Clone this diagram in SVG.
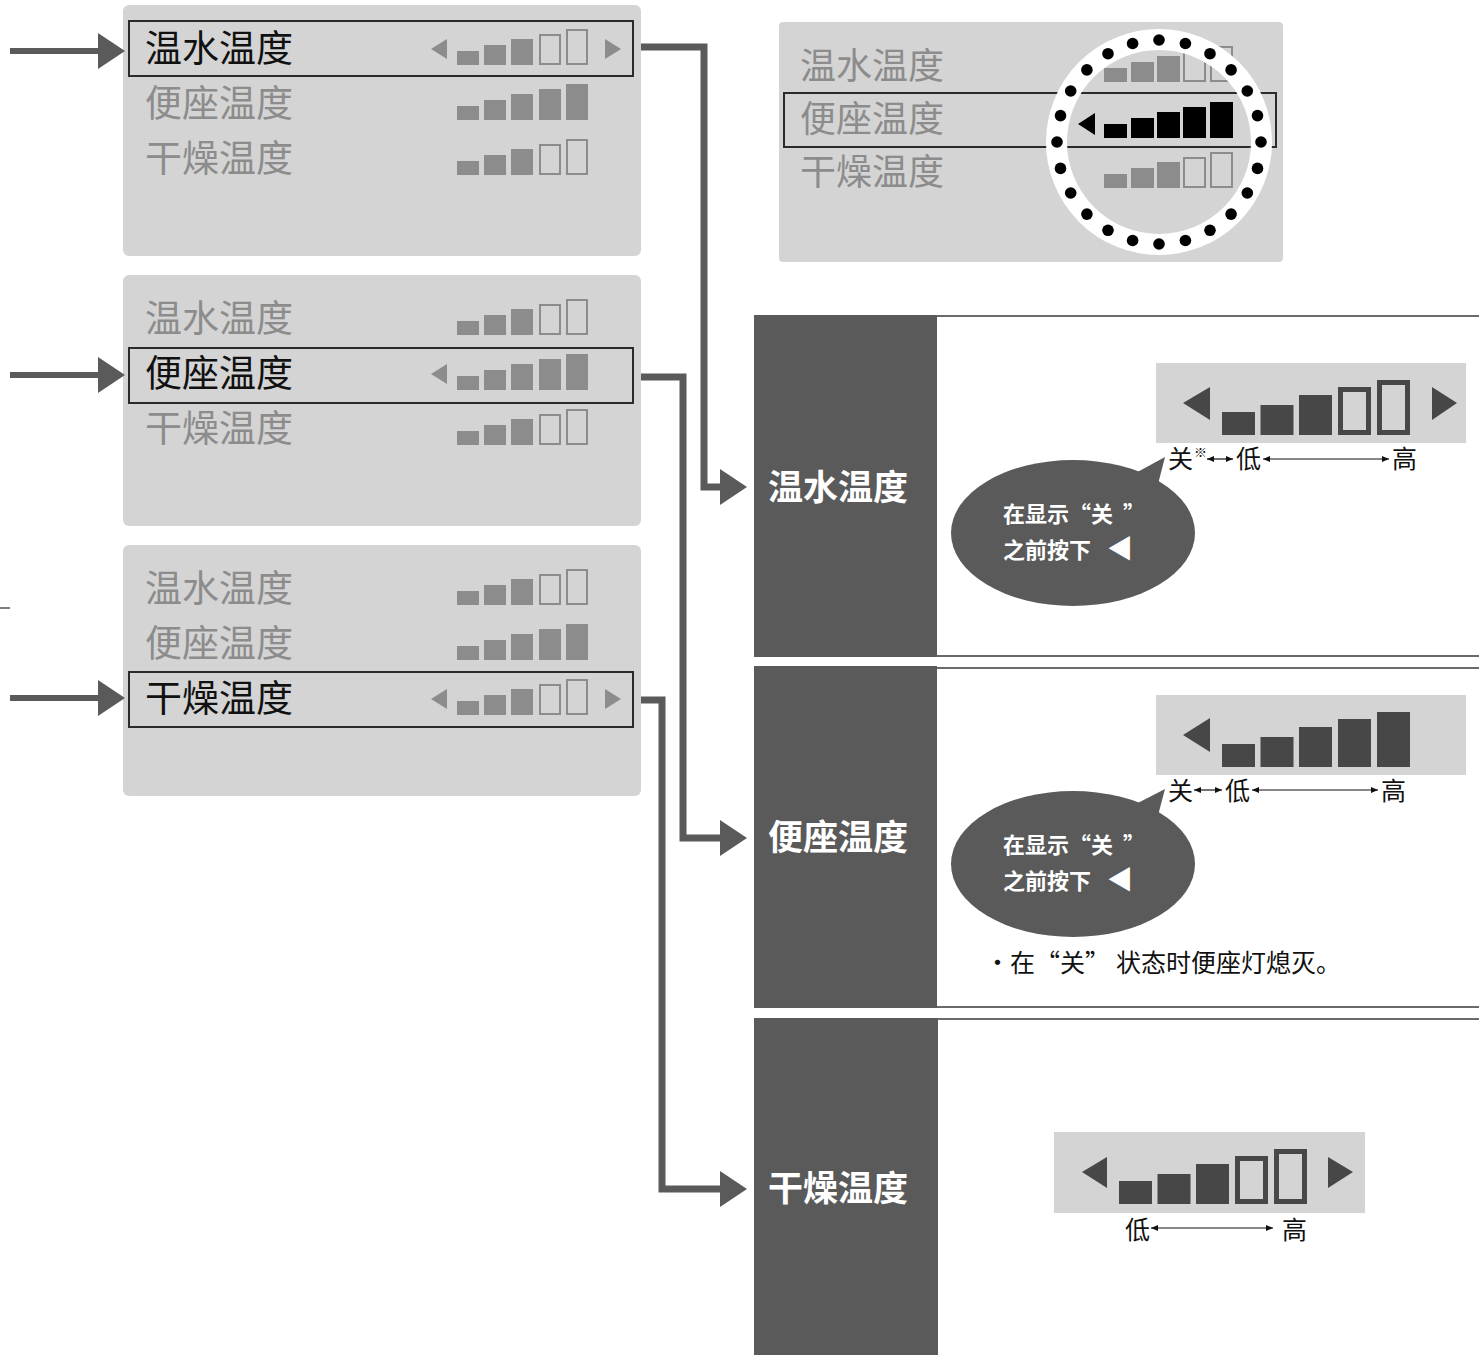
<svg xmlns="http://www.w3.org/2000/svg" xmlns:xlink="http://www.w3.org/1999/xlink" width="1479" height="1355" viewBox="0 0 1479 1355">
<style>
text{font-family:"Noto Sans CJK SC","Noto Sans",sans-serif}
.panel{fill:#d4d4d4}
.row{font-size:37px;fill:#8c8c8c}
.sel{fill:#111}
.selbox{fill:none;stroke:#2b2b2b;stroke-width:2}
.gb{fill:#8c8c8c}
.go{fill:none;stroke:#8c8c8c;stroke-width:2}
.kb{fill:#000}
.db{fill:#474747}
.do{fill:none;stroke:#474747;stroke-width:5}
.disp{fill:#d4d4d4}
.col{fill:#5a5a5a}
.sep{stroke:#6a6a6a;stroke-width:2}
.lbl{font-size:35px;font-weight:700;fill:#fff}
.bub{fill:#5a5a5a}
.btx{font-size:22px;font-weight:700;fill:#fff}
.scale{font-size:25px;fill:#111}
.conn{fill:none;stroke:#5a5a5a;stroke-width:7;stroke-linejoin:miter}
.inp{fill:none;stroke:#5a5a5a;stroke-width:6}
.tiny{stroke:#111;stroke-width:1.2;fill:none}
</style>
<defs>
<marker id="big" viewBox="0 0 27 36" refX="1" refY="18" markerWidth="27" markerHeight="36" markerUnits="userSpaceOnUse" orient="auto"><path d="M0,0 L27,18 L0,36Z" fill="#5a5a5a"/></marker>
<marker id="sm" viewBox="0 0 7 6" refX="7" refY="3" markerWidth="7" markerHeight="6" markerUnits="userSpaceOnUse" orient="auto-start-reverse"><path d="M0,0L7,3L0,6Z" fill="#111"/></marker>
<g id="sb3"><rect class="gb" x="0" y="-14" width="22" height="14"/><rect class="gb" x="27" y="-20" width="22" height="20"/><rect class="gb" x="54" y="-26" width="22" height="26"/><rect class="go" x="83" y="-30" width="20" height="29"/><rect class="go" x="110" y="-35" width="20" height="34"/></g>
<g id="sb5"><rect class="gb" x="0" y="-14" width="22" height="14"/><rect class="gb" x="27" y="-20" width="22" height="20"/><rect class="gb" x="54" y="-26" width="22" height="26"/><rect class="gb" x="82" y="-31" width="22" height="31"/><rect class="gb" x="109" y="-36" width="22" height="36"/></g>
<g id="tb3"><rect class="gb" x="0" y="-14" width="23" height="14"/><rect class="gb" x="27" y="-20" width="23" height="20"/><rect class="gb" x="53" y="-26" width="23" height="26"/><rect class="go" x="80" y="-30" width="21" height="29"/><rect class="go" x="107" y="-35" width="21" height="34"/></g>
<g id="tb5k"><rect class="kb" x="0" y="-14" width="23" height="14"/><rect class="kb" x="27" y="-20" width="23" height="20"/><rect class="kb" x="53" y="-26" width="23" height="26"/><rect class="kb" x="79" y="-31" width="23" height="31"/><rect class="kb" x="106" y="-36" width="23" height="36"/></g>
<g id="lb3"><rect class="db" x="0" y="-23" width="33" height="23"/><rect class="db" x="38.5" y="-30" width="33" height="30"/><rect class="db" x="77" y="-40" width="33" height="40"/><rect class="do" x="118.5" y="-45.5" width="28" height="43"/><rect class="do" x="157.5" y="-52.5" width="28" height="50"/></g>
<g id="lb5"><rect class="db" x="0" y="-23" width="33" height="23"/><rect class="db" x="38.5" y="-30" width="33" height="30"/><rect class="db" x="77" y="-40" width="33" height="40"/><rect class="db" x="116" y="-48" width="33" height="48"/><rect class="db" x="155" y="-55" width="33" height="55"/></g>
</defs>

<g id="panel-water">
<rect class="panel" x="123" y="5" width="518" height="251" rx="6"/>
<rect class="selbox" x="129" y="21" width="504" height="55"/>
<text class="row sel" x="145" y="62">温水温度</text>
<polygon class="gb" points="431,49 447,39 447,59"/>
<use href="#sb3" x="457" y="65"/>
<polygon class="gb" points="605,39 621,49 605,59"/>
<text class="row" x="145" y="117">便座温度</text>
<use href="#sb5" x="457" y="120"/>
<text class="row" x="145" y="172">干燥温度</text>
<use href="#sb3" x="457" y="175"/>
</g>

<g id="panel-seat">
<rect class="panel" x="123" y="275" width="518" height="251" rx="6"/>
<text class="row" x="145" y="332">温水温度</text>
<use href="#sb3" x="457" y="335"/>
<rect class="selbox" x="129" y="348" width="504" height="55"/>
<text class="row sel" x="145" y="387">便座温度</text>
<polygon class="gb" points="431,374 447,364 447,384"/>
<use href="#sb5" x="457" y="390"/>
<text class="row" x="145" y="442">干燥温度</text>
<use href="#sb3" x="457" y="445"/>
</g>

<g id="panel-dry">
<rect class="panel" x="123" y="545" width="518" height="251" rx="6"/>
<text class="row" x="145" y="602">温水温度</text>
<use href="#sb3" x="457" y="605"/>
<text class="row" x="145" y="657">便座温度</text>
<use href="#sb5" x="457" y="660"/>
<rect class="selbox" x="129" y="672" width="504" height="55"/>
<text class="row sel" x="145" y="712">干燥温度</text>
<polygon class="gb" points="431,699 447,689 447,709"/>
<use href="#sb3" x="457" y="715"/>
<polygon class="gb" points="605,689 621,699 605,709"/>
</g>

<g id="panel-zoom">
<rect class="panel" x="779" y="22" width="504" height="240" rx="4"/>
<text class="row" style="font-size:36px" x="800" y="79">温水温度</text>
<use href="#tb3" x="1104" y="82"/>
<rect class="selbox" x="784" y="93" width="492" height="54"/>
<text class="row" style="font-size:36px" x="800" y="132">便座温度</text>
<polygon class="kb" points="1078,124 1095,113 1095,135"/>
<use href="#tb5k" x="1104" y="138"/>
<text class="row" style="font-size:36px" x="800" y="185">干燥温度</text>
<use href="#tb3" x="1104" y="188"/>
<circle cx="1159" cy="142" r="102.5" fill="none" stroke="#fff" stroke-width="21"/>
<g fill="#000">
<circle cx="1159" cy="40" r="5.8"/><circle cx="1185.4" cy="43.5" r="5.8"/><circle cx="1210" cy="53.7" r="5.8"/><circle cx="1231.1" cy="69.9" r="5.8"/><circle cx="1247.3" cy="91" r="5.8"/><circle cx="1257.5" cy="115.6" r="5.8"/><circle cx="1261" cy="142" r="5.8"/><circle cx="1257.5" cy="168.4" r="5.8"/><circle cx="1247.3" cy="193" r="5.8"/><circle cx="1231.1" cy="214.1" r="5.8"/><circle cx="1210" cy="230.3" r="5.8"/><circle cx="1185.4" cy="240.5" r="5.8"/><circle cx="1159" cy="244" r="5.8"/><circle cx="1132.6" cy="240.5" r="5.8"/><circle cx="1108" cy="230.3" r="5.8"/><circle cx="1086.9" cy="214.1" r="5.8"/><circle cx="1070.7" cy="193" r="5.8"/><circle cx="1060.5" cy="168.4" r="5.8"/><circle cx="1057" cy="142" r="5.8"/><circle cx="1060.5" cy="115.6" r="5.8"/><circle cx="1070.7" cy="91" r="5.8"/><circle cx="1086.9" cy="69.9" r="5.8"/><circle cx="1108" cy="53.7" r="5.8"/><circle cx="1132.6" cy="43.5" r="5.8"/>
</g>
</g>

<g id="sec-water">
<rect class="col" x="754" y="315" width="183" height="342"/>
<line class="sep" x1="937" y1="316" x2="1479" y2="316"/>
<line class="sep" x1="937" y1="656" x2="1479" y2="656"/>
<text class="lbl" x="768" y="500">温水温度</text>
<rect class="disp" x="1156" y="363" width="310" height="80"/>
<polygon class="db" points="1183,403 1210,387 1210,420"/>
<use href="#lb3" x="1222" y="435"/>
<polygon class="db" points="1432,387 1457,403 1432,420"/>
<text class="scale" x="1168" y="468">关</text>
<text x="1194" y="457" style="font-size:13px;fill:#111">※</text>
<line class="tiny" x1="1207" y1="459" x2="1233" y2="459" marker-start="url(#sm)" marker-end="url(#sm)"/>
<text class="scale" x="1236" y="468">低</text>
<line class="tiny" x1="1263" y1="459" x2="1389" y2="459" marker-start="url(#sm)" marker-end="url(#sm)"/>
<text class="scale" x="1392" y="468">高</text>
<path class="bub" d="M1132,475 L1165,457 L1156,492 Z"/>
<ellipse class="bub" cx="1073" cy="533" rx="122" ry="73"/>
<text class="btx" x="1003" y="522">在显示“关<tspan x="1123">”</tspan></text>
<text class="btx" x="1003" y="558">之前按下<tspan x="1107" style="font-size:26px">◀</tspan></text>
</g>

<g id="sec-seat">
<rect class="col" x="754" y="666" width="183" height="342"/>
<line class="sep" x1="937" y1="668" x2="1479" y2="668"/>
<line class="sep" x1="937" y1="1007" x2="1479" y2="1007"/>
<text class="lbl" x="768" y="850">便座温度</text>
<rect class="disp" x="1156" y="695" width="310" height="80"/>
<polygon class="db" points="1183,735 1210,718 1210,752"/>
<use href="#lb5" x="1222" y="767"/>
<text class="scale" x="1168" y="800">关</text>
<line class="tiny" x1="1194" y1="790" x2="1222" y2="790" marker-start="url(#sm)" marker-end="url(#sm)"/>
<text class="scale" x="1225" y="800">低</text>
<line class="tiny" x1="1252" y1="790" x2="1378" y2="790" marker-start="url(#sm)" marker-end="url(#sm)"/>
<text class="scale" x="1381" y="800">高</text>
<path class="bub" d="M1132,806 L1165,789 L1156,823 Z"/>
<ellipse class="bub" cx="1073" cy="864" rx="122" ry="73"/>
<text class="btx" x="1003" y="853">在显示“关<tspan x="1123">”</tspan></text>
<text class="btx" x="1003" y="889">之前按下<tspan x="1107" style="font-size:26px">◀</tspan></text>
<text class="scale" y="972"><tspan x="985">•</tspan><tspan x="1010">在“关”</tspan><tspan x="1116">状态时便座灯熄灭。</tspan></text>
</g>

<g id="sec-dry">
<rect class="col" x="754" y="1018" width="184" height="337"/>
<line class="sep" x1="938" y1="1019" x2="1479" y2="1019"/>
<text class="lbl" x="768" y="1201">干燥温度</text>
<rect class="disp" x="1054" y="1132" width="311" height="81"/>
<polygon class="db" points="1082,1172 1107,1157 1107,1188"/>
<use href="#lb3" x="1119" y="1204"/>
<polygon class="db" points="1328,1157 1353,1172 1328,1188"/>
<text class="scale" x="1125" y="1239">低</text>
<line class="tiny" x1="1151" y1="1228" x2="1273" y2="1228" marker-start="url(#sm)" marker-end="url(#sm)"/>
<text class="scale" x="1282" y="1239">高</text>
</g>

<g id="connectors">
<path class="inp" d="M10,51 H99" marker-end="url(#big)"/>
<path class="inp" d="M10,375 H99" marker-end="url(#big)"/>
<path class="inp" d="M10,698 H99" marker-end="url(#big)"/>
<line x1="0" y1="608" x2="10" y2="608" stroke="#555" stroke-width="1.5"/>
<path class="conn" d="M641,47 H704 V487 H721" marker-end="url(#big)"/>
<path class="conn" d="M641,377 H683 V838 H721" marker-end="url(#big)"/>
<path class="conn" d="M641,700 H662 V1189 H721" marker-end="url(#big)"/>
</g>
</svg>
